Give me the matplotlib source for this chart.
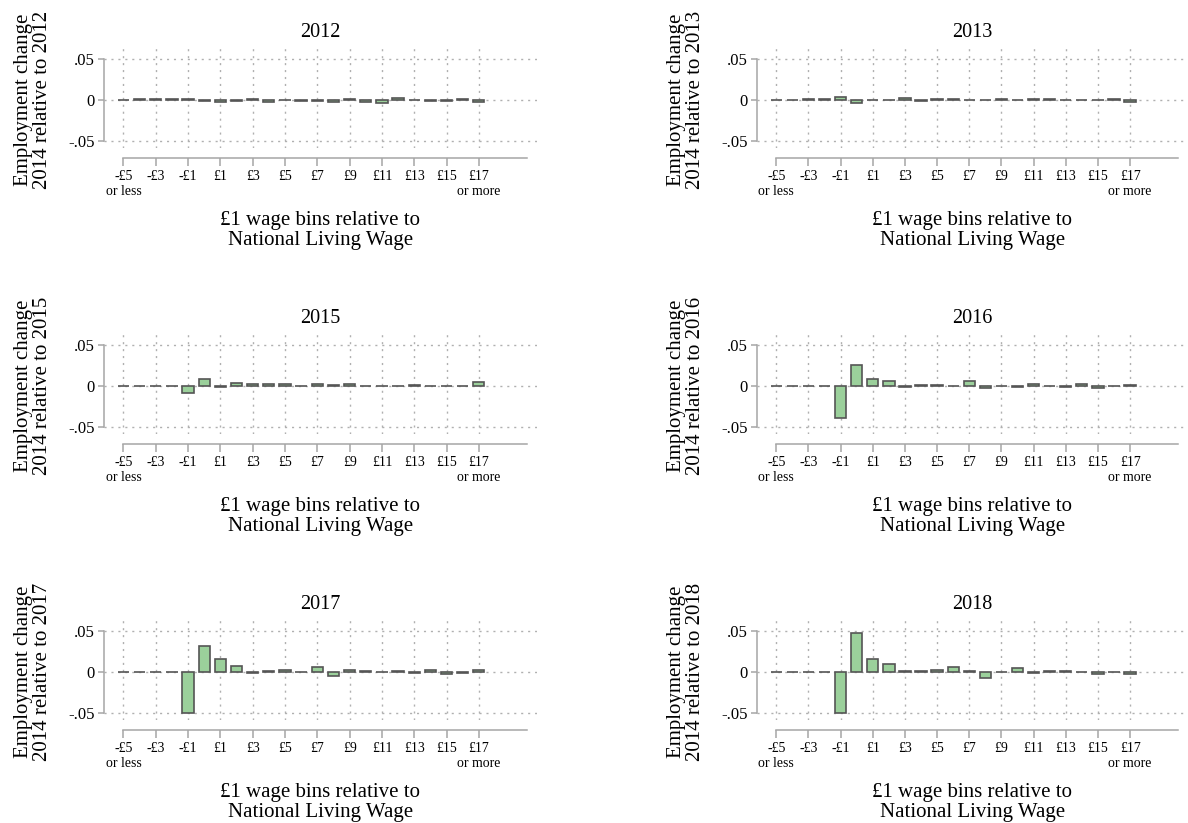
import matplotlib.pyplot as plt

plt.rcParams['font.family'] = ['Liberation Serif', 'DejaVu Serif']

# wage bins relative to the National Living Wage (£)
bins = list(range(-5, 18))
tick_bins = list(range(-5, 18, 2))
tick_labels = ["-£5\nor less", "-£3", "-£1", "£1", "£3", "£5", "£7", "£9",
               "£11", "£13", "£15", "£17\nor more"]

years = [2012, 2013, 2015, 2016, 2017, 2018]

change_2012 = [0.0, 0.0015, 0.0008, 0.0008, 0.001, -0.001, -0.003, -0.001,
               0.0015, -0.002, -0.0005, -0.001, -0.001, -0.003, 0.001, -0.002,
               -0.004, 0.003, -0.0005, -0.001, -0.001, 0.001, -0.003]
change_2013 = [0.0, 0.0, 0.001, 0.0008, 0.004, -0.004, 0.0, 0.0,
               0.002, -0.001, 0.0008, 0.0008, -0.0005, -0.0003, 0.0015, -0.0005,
               0.001, 0.0015, -0.0005, -0.0005, -0.0005, 0.0008, -0.002]
change_2015 = [0.0, 0.0, 0.0, 0.0, -0.009, 0.0085, -0.001, 0.0035,
               0.003, 0.002, 0.003, -0.0002, 0.002, 0.001, 0.002, 0.0005,
               0.0005, 0.0, 0.001, 0.0, 0.0, 0.0, 0.0045]
change_2016 = [0.0, 0.0, 0.0, 0.0, -0.0385, 0.025, 0.009, 0.006,
               -0.001, 0.001, 0.0015, 0.0005, 0.006, -0.003, 0.0, -0.0008,
               0.002, 0.0, -0.001, 0.002, -0.002, 0.0, 0.0008]
change_2017 = [0.0, 0.0, 0.0, 0.0, -0.05, 0.032, 0.016, 0.0077,
               -0.001, 0.001, 0.002, -0.0005, 0.0065, -0.0045, 0.002, 0.0008,
               0.0, 0.001, -0.001, 0.003, -0.002, -0.001, 0.002]
change_2018 = [0.0, 0.0, 0.0, 0.0, -0.05, 0.048, 0.0153, 0.01,
               0.001, 0.0008, 0.002, 0.0056, 0.001, -0.0069, -0.0005, 0.0048,
               -0.001, 0.0008, 0.0008, -0.0005, -0.003, -0.0005, -0.002]

changes = [change_2012, change_2013, change_2015, change_2016, change_2017, change_2018]

W, H = 1188, 823
fig = plt.figure(figsize=(W / 100, H / 100), dpi=100)

col_left = [104, 757]
col_width = [433, 431]
row_top = [45, 331, 617]
ax_h = 103

axis_grey = '#a6a6a6'

for k, (year, vals) in enumerate(zip(years, changes)):
    r, c = divmod(k, 2)
    L, T, w = col_left[c], row_top[r], col_width[c]
    ax = fig.add_axes([L / W, 1 - (T + ax_h) / H, w / W, ax_h / H])

    ax.bar(bins, vals, width=0.7, color='#9bd09b', edgecolor='#555555',
           linewidth=1.2, zorder=3)

    ax.set_xlim(-6.2, 20.6)
    ax.set_ylim(-0.0585, 0.067)
    ax.set_xticks(tick_bins)
    ax.set_xticklabels(tick_labels, fontsize=13, linespacing=1.15)
    ax.set_yticks([-0.05, 0, 0.05])
    ax.set_yticklabels(['-.05', '0', '.05'], fontsize=12)

    ax.grid(True, linestyle=(0, (1.5, 3.5)), color='#b0b0b0', linewidth=1, zorder=0)

    for s in ['top', 'right']:
        ax.spines[s].set_visible(False)
    ax.spines['left'].set_bounds(-0.05, 0.05)
    ax.spines['bottom'].set_position(('outward', 7))
    ax.spines['bottom'].set_bounds(-5, 20)
    for s in ['left', 'bottom']:
        ax.spines[s].set_color(axis_grey)
        ax.spines[s].set_linewidth(1.1)
    ax.tick_params(axis='y', length=4.5, width=1.1, color=axis_grey, pad=2)
    ax.tick_params(axis='x', length=6, width=1.1, color=axis_grey, pad=3)

    ax.set_title(str(year), fontsize=14.5, pad=5.5)
    ax.text(-0.165, 0.466, "Employment change\n2014 relative to %d" % year,
            rotation=90, ha='center', va='center', fontsize=15,
            linespacing=1.0, transform=ax.transAxes)
    ax.text(0.5, -0.80, "£1 wage bins relative to\nNational Living Wage",
            ha='center', va='center', fontsize=15, linespacing=1.12,
            transform=ax.transAxes)

fig.savefig('out.png', dpi=100, facecolor='white')
